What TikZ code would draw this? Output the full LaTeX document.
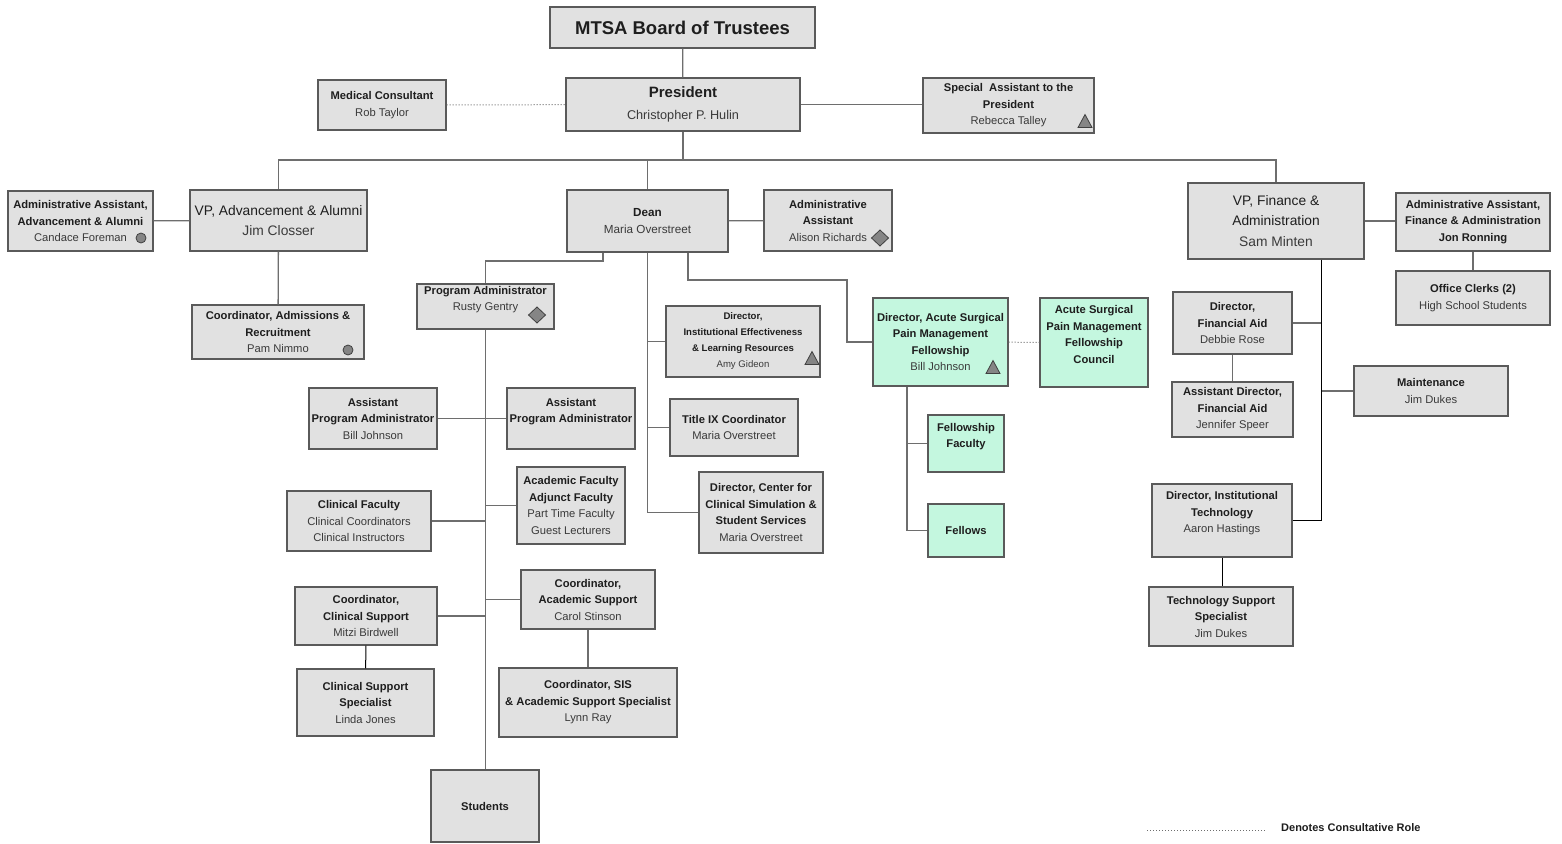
\documentclass[tikz,border=0pt]{standalone}
\usepackage{fontspec}
\setmainfont{Liberation Sans}
\definecolor{boxc}{HTML}{E1E1E1}
\definecolor{greenc}{HTML}{C4F7DF}
\definecolor{bordc}{HTML}{5A5A5A}
\definecolor{linec}{HTML}{6E6E6E}
\definecolor{txtc}{HTML}{1E1E1E}
\definecolor{namec}{HTML}{3A3A3A}
\definecolor{symf}{HTML}{858585}
\definecolor{symd}{HTML}{404040}
\newcommand{\pname}[1]{{\color{namec}#1}}
\tikzset{
  box/.style={draw=bordc, line width=1.3pt, fill=boxc, inner sep=0pt, align=center,
    text=txtc, font=\fontsize{11.2}{16.5}\selectfont},
  gbox/.style={box, fill=greenc},
  conn/.style={draw=linec, line width=1.3pt},
  darkconn/.style={draw=black, line width=1pt},
  consult/.style={draw=linec, line width=1pt, dash pattern=on 1pt off 2pt},
  sym/.style={draw=symd, fill=symf, line width=0.8pt},
}
\begin{document}
\begin{tikzpicture}[x=1pt,y=-1pt]
\useasboundingbox (0,0) rectangle (1562,843);
\fill[white] (0,0) rectangle (1562,843);

% ---------- nodes ----------
\node[box, minimum width=265pt, minimum height=41pt, font=\fontsize{18.5}{22}\selectfont\bfseries] (board) at (682.5,27.5) {MTSA Board of Trustees};
\node[box, minimum width=234pt, minimum height=53pt, font=\fontsize{12.7}{21}\selectfont] (pres) at (683,104.5) {{\fontsize{15}{21}\selectfont\bfseries President}\\[1pt] \pname{Christopher P. Hulin}};
\node[box, minimum width=128pt, minimum height=50pt] (med) at (382,105) {\textbf{Medical Consultant}\\ \pname{Rob Taylor}};
\node[box, minimum width=171pt, minimum height=55pt] (spec) at (1008.5,105.5) {\textbf{Special\ \ Assistant to the}\\ \textbf{President}\\ \pname{Rebecca Talley}};

\node[box, minimum width=177pt, minimum height=61pt, font=\fontsize{13.8}{20}\selectfont] (vpadv) at (278.5,220.5) {VP, Advancement \& Alumni\\ \pname{Jim Closser}};
\node[box, minimum width=145pt, minimum height=60pt] (aaadv) at (80.5,221) {\textbf{Administrative Assistant,}\\ \textbf{Advancement \& Alumni}\\ \pname{Candace Foreman}};
\node[box, minimum width=172pt, minimum height=54pt] (coordadm) at (278,332) {\textbf{Coordinator, Admissions \&}\\ \textbf{Recruitment}\\ \pname{Pam Nimmo}};

\node[box, minimum width=161pt, minimum height=62pt, font=\fontsize{11.7}{17}\selectfont] (dean) at (647.5,221) {\textbf{Dean}\\ \pname{Maria Overstreet}};
\node[box, minimum width=128pt, minimum height=61pt] (aadean) at (828,220.5) {\textbf{Administrative}\\ \textbf{Assistant}\\ \pname{Alison Richards}\hspace{16pt}};
\node[box, minimum width=137pt, minimum height=45pt] (progadm) at (485.5,306.5) {\textbf{Program Administrator}\\ \pname{Rusty Gentry}\\ \mbox{}};

\node[box, minimum width=154pt, minimum height=71pt, font=\fontsize{9.6}{16}\selectfont] (dirie) at (743,341.5) {\textbf{Director,}\\ \textbf{Institutional Effectiveness}\\ \textbf{\& Learning Resources}\\ \pname{Amy Gideon}};
\node[box, minimum width=128pt, minimum height=57pt] (titleix) at (734,427.5) {\textbf{Title IX Coordinator}\\ \pname{Maria Overstreet}};
\node[box, minimum width=124pt, minimum height=81pt] (dircen) at (761,512.5) {\textbf{Director, Center for}\\ \textbf{Clinical Simulation \&}\\ \textbf{Student Services}\\ \pname{Maria Overstreet}};

\node[gbox, minimum width=135pt, minimum height=88pt] (dirasp) at (940.5,342) {\textbf{Director, Acute Surgical}\\ \textbf{Pain Management}\\ \textbf{Fellowship}\\ \pname{Bill Johnson}};
\node[gbox, minimum width=108pt, minimum height=89pt] (council) at (1094,342.5) {\textbf{Acute Surgical}\\ \textbf{Pain Management}\\ \textbf{Fellowship}\\ \textbf{Council}\\ \mbox{}};
\node[gbox, minimum width=76pt, minimum height=57pt] (fellfac) at (966,443.5) {\textbf{Fellowship}\\ \textbf{Faculty}\\ \mbox{}};
\node[gbox, minimum width=76pt, minimum height=53pt] (fellows) at (966,530.5) {\textbf{Fellows}};

\node[box, minimum width=128pt, minimum height=61pt] (apa1) at (373,418.5) {\textbf{Assistant}\\ \textbf{Program Administrator}\\ \pname{Bill Johnson}};
\node[box, minimum width=128pt, minimum height=61pt] (apa2) at (571,418.5) {\textbf{Assistant}\\ \textbf{Program Administrator}\\ \mbox{}};
\node[box, minimum width=108pt, minimum height=77pt] (acadfac) at (571,505.5) {\textbf{Academic Faculty}\\ \textbf{Adjunct Faculty}\\ \pname{Part Time Faculty}\\ \pname{Guest Lecturers}};
\node[box, minimum width=144pt, minimum height=60pt] (clinfac) at (359,521) {\textbf{Clinical Faculty}\\ \pname{Clinical Coordinators}\\ \pname{Clinical Instructors}};
\node[box, minimum width=134pt, minimum height=59pt] (coordacad) at (588,599.5) {\textbf{Coordinator,}\\ \textbf{Academic Support}\\ \pname{Carol Stinson}};
\node[box, minimum width=142pt, minimum height=58pt] (coordclin) at (366,616) {\textbf{Coordinator,}\\ \textbf{Clinical Support}\\ \pname{Mitzi Birdwell}};
\node[box, minimum width=137pt, minimum height=67pt] (clinspec) at (365.5,702.5) {\textbf{Clinical Support}\\ \textbf{Specialist}\\ \pname{Linda Jones}};
\node[box, minimum width=178pt, minimum height=69pt] (coordsis) at (588,702.5) {\textbf{Coordinator, SIS}\\ \textbf{\& Academic Support Specialist}\\ \pname{Lynn Ray}};
\node[box, minimum width=108pt, minimum height=72pt] (students) at (485,806) {\textbf{Students}};

\node[box, minimum width=176pt, minimum height=76pt, font=\fontsize{13.8}{20.5}\selectfont] (vpfin) at (1276,221) {VP, Finance \&\\ Administration\\ \pname{Sam Minten}};
\node[box, minimum width=154pt, minimum height=58pt] (aafin) at (1473,222) {\textbf{Administrative Assistant,}\\ \textbf{Finance \& Administration}\\ \textbf{Jon Ronning}};
\node[box, minimum width=154pt, minimum height=54pt] (clerks) at (1473,298) {\textbf{Office Clerks (2)}\\ \pname{High School Students}};
\node[box, minimum width=119pt, minimum height=62pt] (dirfa) at (1232.5,323) {\textbf{Director,}\\ \textbf{Financial Aid}\\ \pname{Debbie Rose}};
\node[box, minimum width=121pt, minimum height=55pt] (asstfa) at (1232.5,409.5) {\textbf{Assistant Director,}\\ \textbf{Financial Aid}\\ \pname{Jennifer Speer}};
\node[box, minimum width=154pt, minimum height=50pt] (maint) at (1431,391) {\textbf{Maintenance}\\ \pname{Jim Dukes}};
\node[box, minimum width=140pt, minimum height=73pt] (dirit) at (1222,520.5) {\textbf{Director, Institutional}\\ \textbf{Technology}\\ \pname{Aaron Hastings}\\ \mbox{}};
\node[box, minimum width=144pt, minimum height=59pt] (techsup) at (1221,616.5) {\textbf{Technology Support}\\ \textbf{Specialist}\\ \pname{Jim Dukes}};

% ---------- symbols ----------
\draw[sym] (141,238) circle[radius=5pt];
\draw[sym] (348,350) circle[radius=5pt];
\draw[sym] (880,230) -- (888.5,238) -- (880,246) -- (871.5,238) -- cycle;
\draw[sym] (537,307) -- (545.5,315) -- (537,323) -- (528.5,315) -- cycle;
\draw[sym] (1078,127.5) -- (1092,127.5) -- (1085,114.5) -- cycle;
\draw[sym] (805,364.5) -- (819,364.5) -- (812,351.5) -- cycle;
\draw[sym] (986,373.5) -- (1000,373.5) -- (993,360.5) -- cycle;

% ---------- connectors ----------
\coordinate (busL) at (279,160);
\coordinate (dpa) at (603,261);
\coordinate (dasp) at (688,280);
\coordinate (dasp2) at (847,280);
\coordinate (fsp) at (907,0);
\coordinate (finsp) at (1321,0);

\draw[conn] (board) -- (pres);
\draw[consult] (med) -- (pres);
\draw[conn] (pres.east) -- (spec.west |- pres.east);
\draw[conn] (pres.south) -- (pres.south |- busL);
\draw[conn] (vpadv.north) -- (vpadv.north |- busL) -- (vpfin.north |- busL) -- (vpfin.north);
\draw[conn] (dean.north) -- (dean.north |- busL);

\draw[conn] (aaadv) -- (vpadv);
\draw[conn] (vpadv) -- (coordadm);

\draw[conn] (dean) -- (aadean);
\draw[conn] (dpa |- dean.south) -- (dpa) -| (progadm.north);
\draw[conn] (dean.south) -- (dean.south |- dircen.west) -- (dircen.west);
\draw[conn] (dean.south |- dirie.west) -- (dirie.west);
\draw[conn] (dean.south |- titleix.west) -- (titleix.west);
\draw[conn] (dasp |- dean.south) -- (dasp) -- (dasp2) |- (dirasp.west);
\draw[consult] (dirasp) -- (council);
\draw[conn] (fsp |- dirasp.south) -- (fsp |- fellows.west) -- (fellows.west);
\draw[conn] (fsp |- fellfac.west) -- (fellfac.west);

\draw[conn] (progadm.south) -- (progadm.south |- students.north);
\draw[conn] (apa1) -- (apa2);
\draw[conn] (progadm.south |- acadfac.west) -- (acadfac.west);
\draw[conn] (clinfac.east) -- (progadm.south |- clinfac.east);
\draw[conn] (progadm.south |- coordacad.west) -- (coordacad.west);
\draw[conn] (coordclin.east) -- (progadm.south |- coordclin.east);
\draw[darkconn] (coordclin) -- (clinspec);
\draw[conn] (coordacad) -- (coordsis);

\draw[conn] (vpfin.east) -- (aafin.west |- vpfin.east);
\draw[conn] (aafin) -- (clerks);
\draw[conn] (dirfa.east) -- (finsp |- dirfa.east);
\draw[conn] (finsp |- maint.west) -- (maint.west);
\draw[darkconn] (finsp |- vpfin.south) -- (finsp |- dirit.east) -- (dirit.east);
\draw[conn] (dirfa) -- (asstfa);
\draw[darkconn] (dirit.south) -- (dirit.south |- techsup.north);

% ---------- legend ----------
\coordinate (lg1) at (1147,830);
\coordinate (lg2) at (1265,830);
\draw[consult] (lg1) -- (lg2);
\node[font=\fontsize{11}{13}\selectfont\bfseries, text=txtc, anchor=west, inner sep=0pt] (legend) at (1281,828) {Denotes Consultative Role};
\end{tikzpicture}
\end{document}
